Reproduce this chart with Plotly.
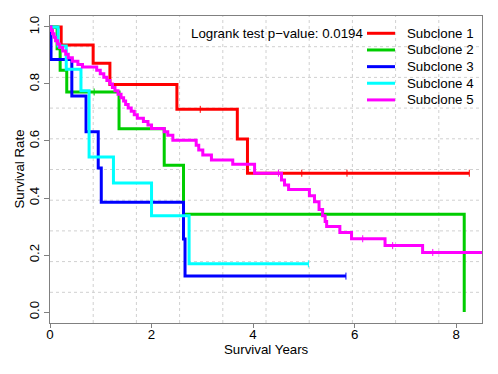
import plotly.graph_objects as go

# ---- data ----
series_names = ["Subclone 1", "Subclone 2", "Subclone 3", "Subclone 4", "Subclone 5"]
series_colors = ["#FF0000", "#00CD00", "#0000FF", "#00FFFF", "#FF00FF"]

t1 = [0, 0.22, 0.85, 1.18, 2.50, 3.69, 3.89, 8.26]
s1 = [1.0, 0.937, 0.873, 0.798, 0.711, 0.607, 0.487, 0.487]
c1_t = [2.96, 4.96, 5.85, 8.26]

t2 = [0, 0.14, 0.20, 0.33, 1.36, 2.25, 2.63, 8.16]
s2 = [1.0, 0.924, 0.848, 0.772, 0.643, 0.515, 0.343, 0.0]
c2_t = [0.87]

t3 = [0, 0.02, 0.43, 0.71, 0.95, 1.01, 2.63, 2.66, 5.83]
s3 = [1.0, 0.886, 0.758, 0.632, 0.505, 0.385, 0.256, 0.126, 0.126]
c3_t = [5.83]

t4 = [0, 0.16, 0.32, 0.61, 0.77, 1.25, 2.00, 2.74, 5.09]
s4 = [1.0, 0.933, 0.852, 0.776, 0.544, 0.453, 0.338, 0.169, 0.169]
c4_t = [5.09]

t5 = [0, 0.02, 0.05, 0.08, 0.11, 0.15, 0.19, 0.25, 0.31, 0.36, 0.44, 0.55, 0.64,
      0.92, 0.99, 1.06, 1.12, 1.18, 1.23, 1.28, 1.34, 1.40, 1.45, 1.49, 1.54, 1.60,
      1.66, 1.72, 1.84, 1.93, 2.00, 2.25, 2.32, 2.42, 2.88, 2.93, 3.01, 3.18, 3.60,
      4.03, 4.56, 4.62, 4.70, 5.11, 5.21, 5.30, 5.37, 5.42, 5.45, 5.71, 5.94, 6.60,
      7.34, 8.51]
s5 = [1.0, 0.988, 0.976, 0.964, 0.952, 0.940, 0.928, 0.916, 0.904, 0.892, 0.880, 0.868, 0.860,
      0.848, 0.836, 0.824, 0.812, 0.800, 0.788, 0.776, 0.764, 0.752, 0.740, 0.728, 0.716, 0.704,
      0.692, 0.680, 0.668, 0.656, 0.644, 0.632, 0.620, 0.603, 0.585, 0.568, 0.551, 0.533, 0.518,
      0.487, 0.463, 0.446, 0.430, 0.408, 0.387, 0.360, 0.338, 0.318, 0.300, 0.279, 0.257, 0.233,
      0.209, 0.209]
c5_t = [4.50, 6.16, 6.75, 7.54]

x_ticks = [0, 2, 4, 6, 8]
y_ticks = [0.0, 0.2, 0.4, 0.6, 0.8, 1.0]
y_ticklabels = ["0.0", "0.2", "0.4", "0.6", "0.8", "1.0"]
x_title = "Survival Years"
y_title = "Survival Rate"
pvalue_text = "Logrank test p\u2212value: 0.0194"


def surv_at(ts, ss, t):
    v = ss[0]
    for ti, si in zip(ts, ss):
        if ti <= t:
            v = si
    return v


curves = [(t1, s1, c1_t), (t2, s2, c2_t), (t3, s3, c3_t), (t4, s4, c4_t), (t5, s5, c5_t)]

FONT = "Liberation Sans, Arial, Helvetica, sans-serif"
FS = 13.3
fig = go.Figure()

for (ts, ss, cts), name, col in zip(curves, series_names, series_colors):
    fig.add_trace(go.Scatter(x=ts, y=ss, mode="lines", line=dict(color=col, width=3, shape="hv"),
                             name=name, showlegend=False, hoverinfo="skip"))
    fig.add_trace(go.Scatter(x=cts, y=[surv_at(ts, ss, c) for c in cts], mode="markers",
                             marker=dict(symbol="line-ns", size=5, line=dict(color=col, width=1)),
                             showlegend=False, hoverinfo="skip"))

# grid (dotted, 10 equal divisions of the plot region)
shapes = []
for k in range(1, 10):
    shapes.append(dict(type="line", xref="x domain", yref="y domain", x0=k / 10, x1=k / 10, y0=0, y1=1,
                       line=dict(color="#D0D0D0", width=1, dash="dot"), layer="below"))
    shapes.append(dict(type="line", xref="x domain", yref="y domain", y0=k / 10, y1=k / 10, x0=0, x1=1,
                       line=dict(color="#D0D0D0", width=1, dash="dot"), layer="below"))

# manual legend
L, R, T, B = 50, 482, 16, 323.3
def px(xp):
    return (xp - L) / (R - L)
def py(yp):
    return (B - yp) / (B - T)

annotations = []
row_y = [33.3, 50.0, 66.7, 83.3, 100.0]
for name, col, yy in zip(series_names, series_colors, row_y):
    shapes.append(dict(type="line", xref="paper", yref="paper", x0=px(367), x1=px(395), y0=py(yy), y1=py(yy),
                       line=dict(color=col, width=3)))
    annotations.append(dict(xref="paper", yref="paper", x=px(405), y=py(yy), text=name, showarrow=False,
                            xanchor="left", yanchor="middle", font=dict(size=FS, color="black", family=FONT)))

annotations.append(dict(xref="paper", yref="paper", x=px(365), y=py(33.3), text=pvalue_text, showarrow=False,
                        xanchor="right", yanchor="middle", font=dict(size=FS, color="black", family=FONT)))

# axis titles
annotations.append(dict(xref="paper", yref="paper", x=0.5, y=py(350), text=x_title, showarrow=False,
                        xanchor="center", yanchor="middle", font=dict(size=FS, color="black", family=FONT)))
annotations.append(dict(xref="paper", yref="paper", x=px(19), y=0.5, text=y_title, showarrow=False,
                        textangle=-90, xanchor="center", yanchor="middle",
                        font=dict(size=FS, color="black", family=FONT)))

fig.update_layout(
    width=498, height=374,
    margin=dict(l=50, r=16, t=16, b=51),
    paper_bgcolor="white", plot_bgcolor="white",
    font=dict(family=FONT, size=FS, color="black"),
    shapes=shapes, annotations=annotations,
    showlegend=False,
)
fig.update_xaxes(range=[0, 8.51], tickvals=x_ticks, ticks="outside", ticklen=4, tickcolor="#808080",
                 showline=True, linecolor="#808080", linewidth=1, mirror=True, showgrid=False, zeroline=False,
                 automargin=False, tickfont=dict(size=FS), ticklabelstandoff=-5)
fig.update_yaxes(range=[-0.0385, 1.0385], tickvals=y_ticks, ticktext=y_ticklabels, tickangle=-90,
                 ticks="outside", ticklen=5, tickcolor="#808080", automargin=False, tickfont=dict(size=FS),
                 showline=True, linecolor="#808080", linewidth=1, mirror=True, showgrid=False, zeroline=False)

fig.write_html("out.html", config={"displayModeBar": False},
               post_script="document.body.style.margin='0';document.body.style.overflow='hidden';")
